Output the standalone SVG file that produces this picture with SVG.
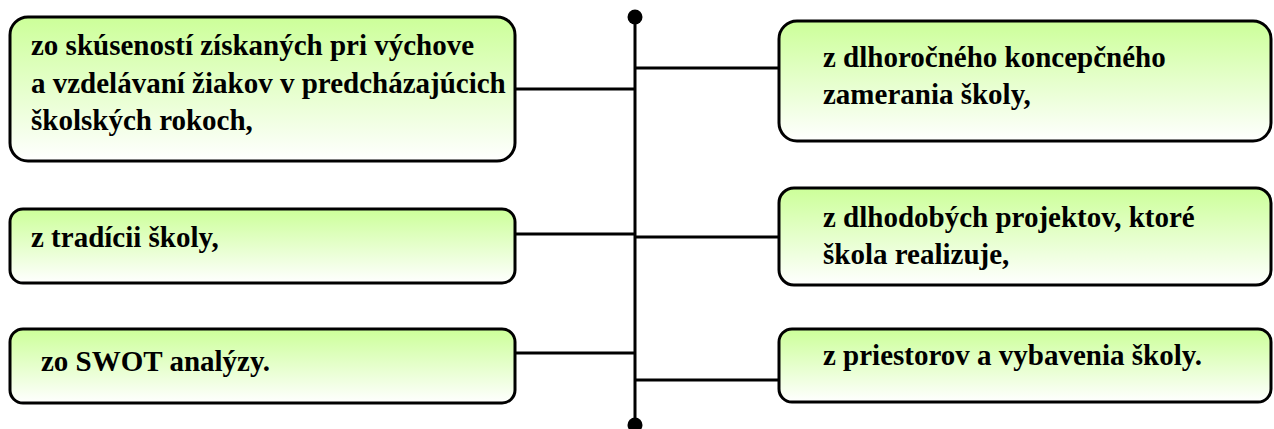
<svg xmlns="http://www.w3.org/2000/svg" width="1274" height="429" viewBox="0 0 1274 429">
<defs>
<linearGradient id="g" x1="0" y1="0" x2="0" y2="1">
<stop offset="0" stop-color="#ccff99"/>
<stop offset="1" stop-color="#ffffff"/>
</linearGradient>
<style>
.box{fill:url(#g);stroke:#000;stroke-width:3}
.t{font-family:'Liberation Serif','DejaVu Serif',serif;font-weight:bold;font-size:29px;fill:#000}
.c{stroke:#000;stroke-width:3;fill:none}
</style>
</defs>
<rect width="1274" height="429" fill="#fff"/>
<g id="connectors">
<line class="c" x1="635" y1="17" x2="635" y2="425"/>
<circle cx="635" cy="17" r="7.5" fill="#000"/>
<circle cx="635" cy="425" r="7.5" fill="#000"/>
<line class="c" x1="515" y1="89" x2="635" y2="89"/>
<line class="c" x1="635" y1="68" x2="779" y2="68"/>
<line class="c" x1="515" y1="234" x2="635" y2="234"/>
<line class="c" x1="635" y1="237" x2="779" y2="237"/>
<line class="c" x1="515" y1="353" x2="635" y2="353"/>
<line class="c" x1="635" y1="380" x2="779" y2="380"/>
</g>
<g id="node-l1">
<rect class="box" x="10" y="17" width="505" height="144" rx="18"/>
<text class="t" font-family="Liberation Serif, serif" x="31" y="55">zo skúseností získaných pri výchove</text>
<text class="t" font-family="Liberation Serif, serif" x="31" y="93">a vzdelávaní žiakov v predcházajúcich</text>
<text class="t" font-family="Liberation Serif, serif" x="31" y="130">školských rokoch,</text>
</g>
<g id="node-l2">
<rect class="box" x="10" y="209" width="505" height="74" rx="13"/>
<text class="t" font-family="Liberation Serif, serif" x="31" y="247">z tradícii školy,</text>
</g>
<g id="node-l3">
<rect class="box" x="10" y="329" width="505" height="74" rx="13"/>
<text class="t" font-family="Liberation Serif, serif" x="41" y="371">zo SWOT analýzy.</text>
</g>
<g id="node-r1">
<rect class="box" x="779" y="21" width="492" height="120" rx="18"/>
<text class="t" font-family="Liberation Serif, serif" x="823" y="67">z dlhoročného koncepčného</text>
<text class="t" font-family="Liberation Serif, serif" x="823" y="104">zamerania školy,</text>
</g>
<g id="node-r2">
<rect class="box" x="779" y="188" width="492" height="97" rx="15"/>
<text class="t" font-family="Liberation Serif, serif" x="823" y="227">z dlhodobých projektov, ktoré</text>
<text class="t" font-family="Liberation Serif, serif" x="823" y="264">škola realizuje,</text>
</g>
<g id="node-r3">
<rect class="box" x="779" y="329" width="492" height="73" rx="13"/>
<text class="t" font-family="Liberation Serif, serif" x="823" y="365">z priestorov a vybavenia školy.</text>
</g>
</svg>
